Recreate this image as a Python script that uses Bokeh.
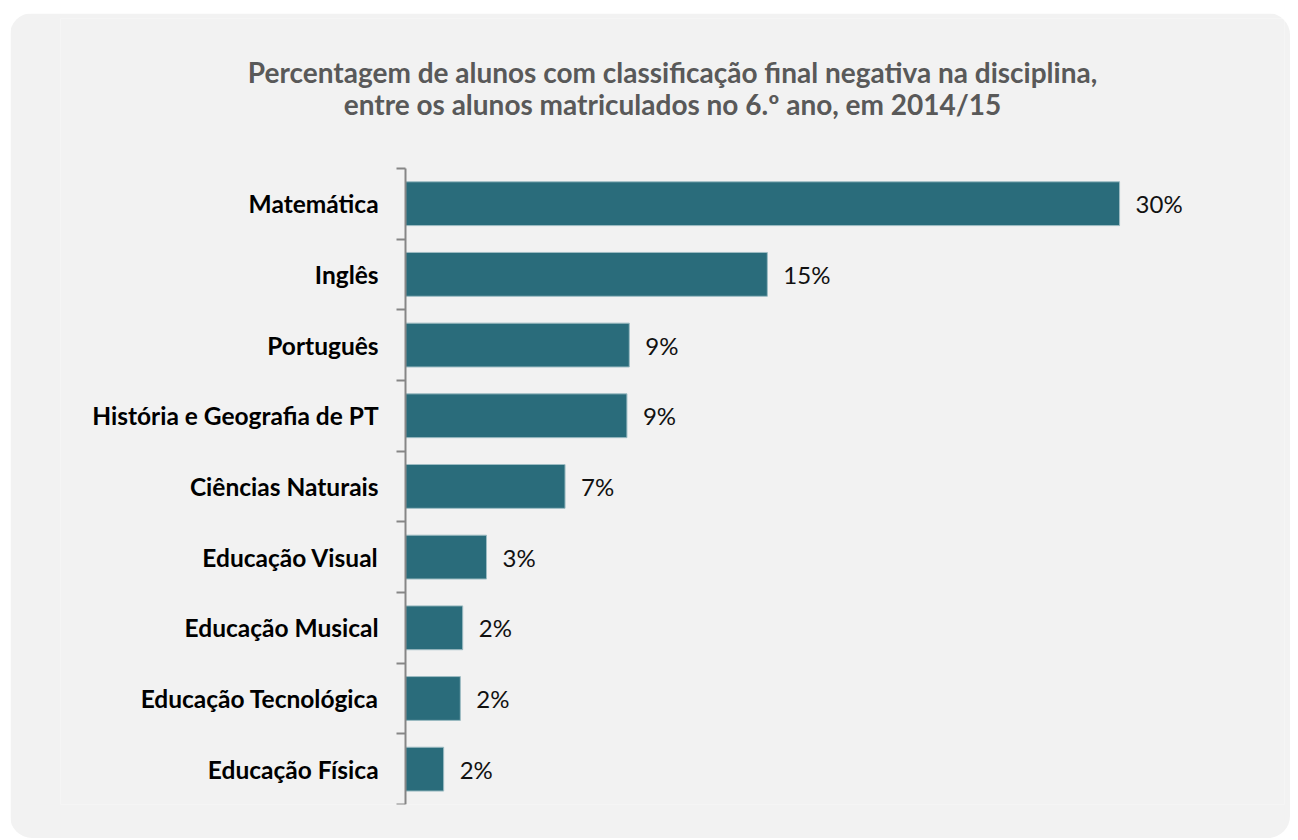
from bokeh.plotting import figure
from bokeh.models import Range1d, FixedTicker, CustomJSTickFormatter, Label, ColumnDataSource
from bokeh.core.properties import value
from bokeh.embed import file_html
from bokeh.resources import INLINE

# ---- data (top to bottom as shown) ----
categories = ["Matemática", "Inglês", "Português", "História e Geografia de PT",
              "Ciências Naturais", "Educação Visual", "Educação Musical",
              "Educação Tecnológica", "Educação Física"]
values = [30.0, 15.2, 9.4, 9.3, 6.7, 3.4, 2.4, 2.3, 1.6]
title_lines = ["Percentagem de alunos com classificação final negativa na disciplina,",
               "entre os alunos matriculados no 6.º ano, em 2014/15"]

n = len(categories)
ypos = [n - i - 0.5 for i in range(n)]
labels = [f"{round(v)}%" for v in values]
src = ColumnDataSource(dict(cat=categories, val=values, y=ypos, lab=labels))

FONT = "Lato"
BAR = "#2A6C7B"
PANEL = "#F2F2F2"

W, H = 1280, 825
MB_L, MB_R, MB_T, MB_B = 50, 6, 5, 34

p = figure(width=W, height=H, x_range=Range1d(-14.5, 36.93), y_range=Range1d(0, 11.12),
           output_backend="svg", toolbar_location=None,
           min_border_left=MB_L, min_border_right=MB_R, min_border_top=MB_T, min_border_bottom=MB_B)
p.title.visible = False
p.background_fill_color = PANEL
p.border_fill_color = PANEL
p.outline_line_color = None
p.xgrid.visible = False
p.ygrid.visible = False
p.xaxis.visible = False
p.styles = {"border-radius": "22px", "overflow": "hidden", "margin-left": "10px", "margin-top": "13px"}

p.hbar(y="y", right="val", left=0, height=0.62, source=src,
       fill_color=BAR, line_color="#9DBCC3", line_width=1)

p.text(x="val", y="y", text="lab", source=src, x_offset=16,
       text_align="left", text_baseline="middle",
       text_font=value(FONT), text_font_size="24px", text_color="#111111")

yax = p.yaxis[0]
yax.fixed_location = 0
yax.bounds = (0, n)
yax.ticker = FixedTicker(ticks=ypos, minor_ticks=list(range(n + 1)))
names_bottom_up = list(reversed(categories))
yax.formatter = CustomJSTickFormatter(args=dict(names=names_bottom_up),
                                      code="const i = Math.floor(tick); return (i >= 0 && i < names.length) ? names[i] : '';")
yax.axis_line_color = "#868686"
yax.axis_line_width = 2
yax.major_tick_out = 0
yax.major_tick_in = 0
yax.minor_tick_out = 9
yax.minor_tick_in = 0
yax.minor_tick_line_color = "#868686"
yax.minor_tick_line_width = 2
yax.major_label_standoff = 18
yax.major_label_text_font = FONT
yax.major_label_text_font_style = "bold"
yax.major_label_text_font_size = "24.5px"
yax.major_label_text_color = "#000000"

# title lines (screen units relative to frame bottom-left)
frame_bottom = H - MB_B
for txt, cy in zip(title_lines, [58, 90.5]):
    p.add_layout(Label(x=662 - MB_L, y=frame_bottom - cy, x_units="screen", y_units="screen",
                       text=txt, text_align="center", text_baseline="middle",
                       text_font=FONT, text_font_style="bold", text_font_size="28px",
                       text_color="#595959"))

open("out.html", "w").write(file_html(p, INLINE))
